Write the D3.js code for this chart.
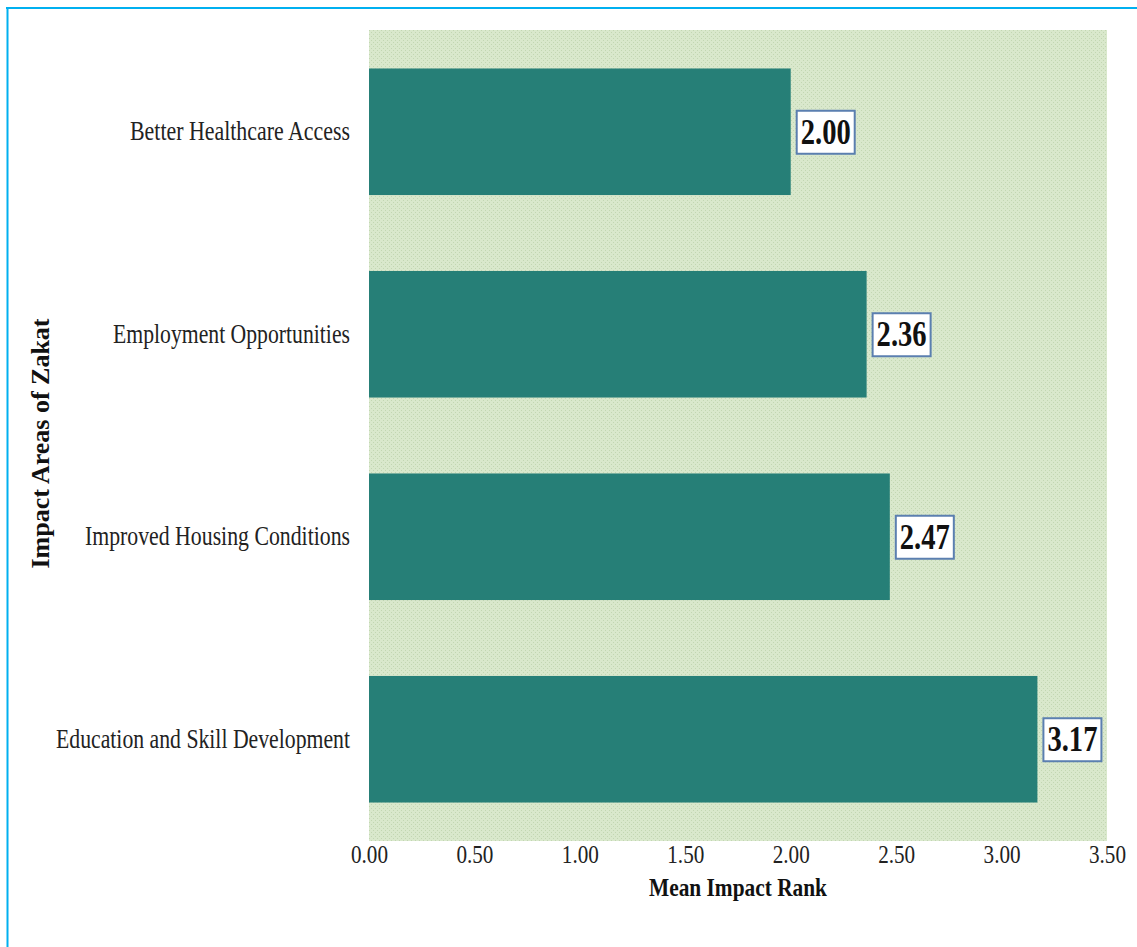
<!DOCTYPE html>
<html>
<head>
<meta charset="utf-8">
<script src="https://cdn.jsdelivr.net/npm/d3@7"></script>
<style>
  html, body { margin: 0; padding: 0; background: #fff; }
  svg { display: block; }
</style>
</head>
<body>
<svg id="chart" width="1137" height="947"></svg>
<script>
// Mean impact rank per area (top to bottom)
const categories = [
  "Better Healthcare Access",
  "Employment Opportunities",
  "Improved Housing Conditions",
  "Education and Skill Development"
];
const values = [2.00, 2.36, 2.47, 3.17];
const tickValues = [0, 0.5, 1, 1.5, 2, 2.5, 3, 3.5];

const SERIF = "Liberation Serif, Times New Roman, serif";
const svg = d3.select("#chart");
const W = 1137, H = 947;
const margin = { left: 369, top: 30 };
const plotW = 1107 - margin.left;
const plotH = 841 - margin.top;

// Frame lines (left and top edges)
svg.append("line").attr("x1", 7.5).attr("x2", 7.5).attr("y1", 7).attr("y2", H)
  .attr("stroke", "#00b0f0").attr("stroke-width", 2);
svg.append("line").attr("x1", 6).attr("x2", W).attr("y1", 8).attr("y2", 8)
  .attr("stroke", "#00b0f0").attr("stroke-width", 2);

// Dotted light-green fill for the plot area
const defs = svg.append("defs");
const pat = defs.append("pattern").attr("id", "dots")
  .attr("width", 4).attr("height", 4).attr("patternUnits", "userSpaceOnUse");
pat.append("rect").attr("width", 4).attr("height", 4).attr("fill", "#d9e8cc");
pat.append("rect").attr("x", 0).attr("y", 0).attr("width", 1).attr("height", 1).attr("fill", "#c2d6b2");
pat.append("rect").attr("x", 2).attr("y", 2).attr("width", 1).attr("height", 1).attr("fill", "#c2d6b2");

const g = svg.append("g").attr("transform", `translate(${margin.left},${margin.top})`);

g.append("rect").attr("width", plotW).attr("height", plotH).attr("fill", "url(#dots)");

const x = d3.scaleLinear().domain([0, 3.5]).range([0, plotW]);
const y = d3.scaleBand().domain(categories).range([0, plotH]).paddingInner(0.375).paddingOuter(0.19);

const data = categories.map((c, i) => ({ c, v: values[i] }));

g.selectAll("rect.bar").data(data).join("rect")
  .attr("class", "bar")
  .attr("x", 0)
  .attr("y", d => y(d.c))
  .attr("width", d => x(d.v))
  .attr("height", y.bandwidth())
  .attr("fill", "#267f77");

// Value labels in boxed callouts
const lab = g.selectAll("g.lab").data(data).join("g").attr("class", "lab")
  .attr("transform", d => `translate(${x(d.v) + 6},${y(d.c) + y.bandwidth() / 2})`);
lab.append("rect").attr("x", 0).attr("y", -21).attr("width", 58).attr("height", 43)
  .attr("fill", "#ffffff").attr("stroke", "#5b7fb0").attr("stroke-width", 2);
lab.append("text").attr("x", 29).attr("y", 12)
  .attr("text-anchor", "middle")
  .attr("font-family", SERIF)
  .attr("font-weight", "bold").attr("font-size", 35).attr("fill", "#111")
  .attr("textLength", 50).attr("lengthAdjust", "spacingAndGlyphs")
  .text(d => d.v.toFixed(2));

// Category axis
const labelWidths = [220, 237, 265, 294];
const yAxis = g.append("g").call(d3.axisLeft(y).tickSize(0).tickPadding(19));
yAxis.select(".domain").remove();
yAxis.selectAll("text")
  .attr("font-family", SERIF)
  .attr("font-size", 27).attr("fill", "#222")
  .attr("textLength", (d, i) => labelWidths[i])
  .attr("lengthAdjust", "spacingAndGlyphs");

// Value axis
const xAxis = g.append("g").attr("transform", `translate(0,${plotH})`)
  .call(d3.axisBottom(x).tickValues(tickValues).tickFormat(d3.format(".2f")).tickSize(0).tickPadding(4));
xAxis.select(".domain").remove();
xAxis.selectAll("text")
  .attr("font-family", SERIF)
  .attr("font-size", 26).attr("fill", "#222")
  .attr("textLength", 37).attr("lengthAdjust", "spacingAndGlyphs");

// Axis titles
svg.append("text")
  .attr("x", margin.left + plotW / 2).attr("y", 896)
  .attr("text-anchor", "middle")
  .attr("font-family", SERIF)
  .attr("font-weight", "bold").attr("font-size", 26).attr("fill", "#111")
  .attr("textLength", 178).attr("lengthAdjust", "spacingAndGlyphs")
  .text("Mean Impact Rank");

svg.append("text")
  .attr("transform", `translate(49,${margin.top + plotH / 2 + 8}) rotate(-90)`)
  .attr("text-anchor", "middle")
  .attr("font-family", SERIF)
  .attr("font-weight", "bold").attr("font-size", 26).attr("fill", "#111")
  .attr("textLength", 250).attr("lengthAdjust", "spacingAndGlyphs")
  .text("Impact Areas of Zakat");
</script>
</body>
</html>
